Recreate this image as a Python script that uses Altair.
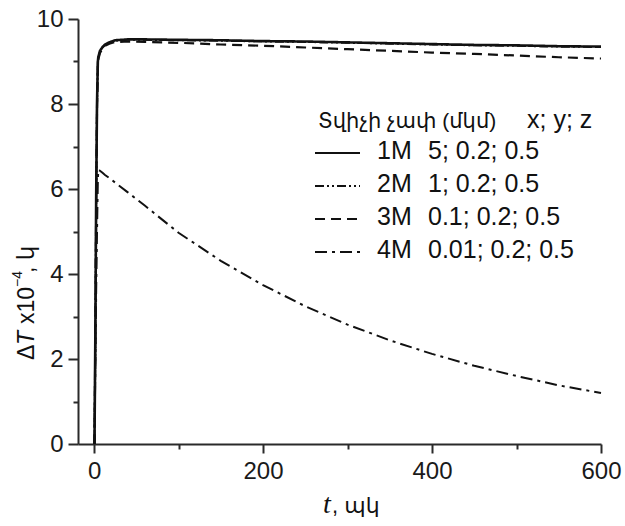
import altair as alt
import pandas as pd

# ---- data ----
t_values = [0.5, 1.5, 2.5, 3.5, 4.5, 5, 7, 10, 13, 18, 25, 40, 60, 100, 150,
            200, 250, 300, 350, 400, 450, 500, 550, 600]
series_1m = [0, 2.5, 5.8, 8.0, 9.0, 9.1, 9.25, 9.34, 9.40, 9.45, 9.50, 9.52, 9.52,
             9.51, 9.50, 9.48, 9.47, 9.45, 9.43, 9.41, 9.39, 9.38, 9.36, 9.35]
series_2m = [0, 2.45, 5.75, 7.95, 8.98, 9.08, 9.24, 9.33, 9.39, 9.44, 9.49, 9.51, 9.51,
             9.50, 9.49, 9.47, 9.46, 9.44, 9.42, 9.40, 9.38, 9.37, 9.35, 9.34]
series_3m = [0, 2.4, 5.6, 7.9, 8.9, 9.05, 9.2, 9.3, 9.37, 9.42, 9.46, 9.47, 9.46,
             9.44, 9.40, 9.37, 9.33, 9.29, 9.25, 9.21, 9.18, 9.14, 9.10, 9.07]
series_4m = [0, 1.8, 3.6, 5.0, 6.2, 6.45, 6.43, 6.38, 6.33, 6.26, 6.15, 5.92, 5.61,
             4.97, 4.31, 3.74, 3.24, 2.81, 2.44, 2.12, 1.84, 1.60, 1.38, 1.20]

series_names = ["1M", "2M", "3M", "4M"]
series_sizes = ["5; 0.2; 0.5", "1; 0.2; 0.5", "0.1; 0.2; 0.5", "0.01; 0.2; 0.5"]
x_ticks = [0, 200, 400, 600]
x_minor = [100, 300, 500]
y_ticks = [0, 2, 4, 6, 8, 10]
y_minor = [1, 3, 5, 7, 9]

legend_title = "Տվիչի չափ (մկմ)"
legend_cols = "x; y; z"
x_unit = ", պկ"
y_unit = ", կ"

# ---- styles ----
dashes = {"1M": [1, 0], "2M": [9, 3, 2, 3, 2, 3], "3M": [10, 6], "4M": [12, 5, 3, 5]}
widths = {"1M": 2.6, "2M": 2.0, "3M": 2.2, "4M": 2.0}
INK = "#111111"
SANS = "Liberation Sans, Arial, DejaVu Sans"

rows = []
for name, vals in zip(series_names, [series_1m, series_2m, series_3m, series_4m]):
    for t, v in zip(t_values, vals):
        rows.append({"t": t, "v": v, "s": name})
df = pd.DataFrame(rows)

x_scale = alt.Scale(domain=[-19, 600], nice=False, zero=False)
y_scale = alt.Scale(domain=[0, 10], nice=False, zero=False)

x_axis = alt.Axis(values=x_ticks, title=None, tickSize=9, labelPadding=6,
                  format="d", orient="bottom")
y_axis = alt.Axis(values=y_ticks, title=None, tickSize=10, labelPadding=5,
                  format="d", orient="left")


def series_layer(name, with_axis=False):
    return alt.Chart(df).transform_filter(alt.datum.s == name).mark_line(
        color=INK, strokeDash=dashes[name], strokeWidth=widths[name], strokeCap="butt"
    ).encode(
        x=alt.X("t:Q", scale=x_scale, axis=x_axis if with_axis else None),
        y=alt.Y("v:Q", scale=y_scale, axis=y_axis if with_axis else None),
        order=alt.Order("t:Q"),
    )


minor = alt.Chart(df).mark_point(opacity=0).encode(
    x=alt.X("t:Q", scale=x_scale,
            axis=alt.Axis(values=x_minor, labels=False, domain=False, tickSize=5,
                          title=None, orient="bottom")),
    y=alt.Y("v:Q", scale=y_scale,
            axis=alt.Axis(values=y_minor, labels=False, domain=False, tickSize=5,
                          title=None, orient="left")),
)


def label(text, x, y, size, font=SANS, style="normal", angle=0, align="left"):
    return alt.Chart(pd.DataFrame({"txt": [text]})).mark_text(
        align=align, baseline="alphabetic", fontSize=size, font=font,
        fontStyle=style, angle=angle, color=INK
    ).encode(x=alt.value(x), y=alt.value(y), text="txt:N")


def legend_line(name, y):
    return alt.Chart(pd.DataFrame({"k": [0]})).mark_rule(
        color=INK, strokeDash=dashes[name], strokeWidth=2.0, strokeCap="butt"
    ).encode(x=alt.value(237), x2=alt.value(282), y=alt.value(y))


annotations = []
# legend
annotations.append(label(legend_title, 240, 109, 21))
annotations.append(label(legend_cols, 449, 109, 25))
row_base = [140, 173, 206, 239]
for i, name in enumerate(series_names):
    annotations.append(legend_line(name, row_base[i] - 6))
    annotations.append(label(name, 299, row_base[i], 25))
    annotations.append(label(series_sizes[i], 350, row_base[i], 25))

# y title (rotated pieces)
annotations.append(label("Δ", -44, 341, 23, angle=270))
annotations.append(label("T", -44, 326, 23, style="italic", angle=270))
annotations.append(label("x10", -44, 305, 23, angle=270))
annotations.append(label("−4", -56, 268, 14, angle=270))
annotations.append(label(y_unit, -44, 254, 23, angle=270))

# x title
annotations.append(label("t", 245, 494, 28, font="Liberation Serif", style="italic"))
annotations.append(label(x_unit, 254, 494, 22))

chart = alt.layer(
    series_layer("2M", with_axis=True),
    minor,
    series_layer("3M"),
    series_layer("4M"),
    series_layer("1M"),
    *annotations,
).resolve_axis(x="independent", y="independent").properties(
    width=523,
    height=425,
    autosize=alt.AutoSizeParams(type="none"),
    padding={"left": 78, "top": 19, "right": 24, "bottom": 82},
    background="white",
).configure_axis(
    labelFont=SANS,
    labelFontSize=24,
    labelColor="#1a1a1a",
    domainColor="#2a2a2a",
    tickColor="#2a2a2a",
    domainWidth=2,
    tickWidth=2,
    grid=False,
    labelOverlap=False,
    labelFlush=False,
).configure_view(stroke=None)

chart.save("out.html", embed_options={"renderer": "svg", "actions": False})
